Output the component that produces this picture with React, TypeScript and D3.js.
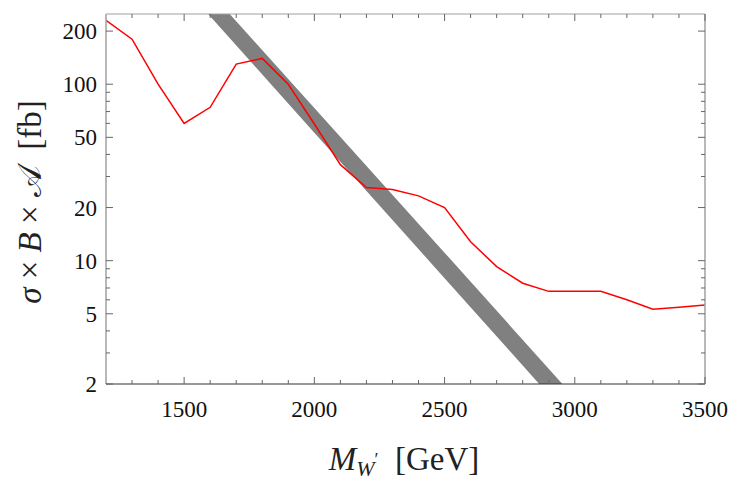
import React, { useEffect, useRef } from "react";
import * as d3 from "d3";

// observed limit (red line)
const massPoints = [1200, 1300, 1400, 1500, 1600, 1700, 1800, 1900, 2000, 2100, 2200, 2300, 2400, 2500, 2600, 2700, 2800, 2900, 3000, 3100, 3200, 3300, 3400, 3500];
const limitValues = [230, 180, 100, 60, 74, 130, 140, 100, 59.5, 35, 26, 25.3, 23.3, 20, 12.8, 9.25, 7.45, 6.7, 6.7, 6.7, 6.0, 5.3, 5.45, 5.6];

// theory band (gray)
const bandMass = [1500, 2000, 2500, 3000];
const bandLow = [355, 53, 7.96, 1.19];
const bandHigh = [484, 73.2, 11.1, 1.67];

const xMajorTicks = [1500, 2000, 2500, 3000, 3500];
const xMinorTicks = [1300, 1400, 1600, 1700, 1800, 1900, 2100, 2200, 2300, 2400, 2600, 2700, 2800, 2900, 3100, 3200, 3300, 3400];
const yMajorTicks = [2, 5, 10, 20, 50, 100, 200];
const yMinorTicks = [3, 4, 6, 7, 8, 9, 30, 40, 60, 70, 80, 90];

const W = 747, H = 487;
const L = 106, R = 705, T = 14, B = 384;
const font = "'Liberation Serif', 'DejaVu Serif', serif";

export default function App() {
  const ref = useRef<SVGGElement | null>(null);

  useEffect(() => {
    const svg = d3.select(ref.current);
    svg.selectAll("*").remove();

    const x = d3.scaleLinear().domain([1200, 3500]).range([L, R]);
    const y = d3.scaleLog().domain([2, 250]).range([B, T]);

    svg.append("clipPath").attr("id", "plotclip")
      .append("rect").attr("x", L).attr("y", T).attr("width", R - L).attr("height", B - T);

    const band = bandMass.map((m, i) => ({ m, lo: bandLow[i], hi: bandHigh[i] }));
    const area = d3.area<any>().x(d => x(d.m)).y0(d => y(d.lo)).y1(d => y(d.hi));
    svg.append("path").datum(band).attr("d", area).attr("fill", "#808080").attr("clip-path", "url(#plotclip)");

    const line = d3.line<number>().x((d, i) => x(massPoints[i])).y(d => y(d));
    svg.append("path").datum(limitValues).attr("d", line)
      .attr("fill", "none").attr("stroke", "#ff0000").attr("stroke-width", 1.5)
      .attr("clip-path", "url(#plotclip)");

    // frame
    const g = svg.append("g");
    g.append("line").attr("x1", L).attr("x2", R).attr("y1", T).attr("y2", T).attr("stroke", "#a0a0a0").attr("stroke-width", 1.2);
    g.append("line").attr("x1", L).attr("x2", L).attr("y1", T).attr("y2", B).attr("stroke", "#a0a0a0").attr("stroke-width", 1.5);
    g.append("line").attr("x1", R).attr("x2", R).attr("y1", T).attr("y2", B).attr("stroke", "#a0a0a0").attr("stroke-width", 1.5);
    g.append("line").attr("x1", L).attr("x2", R).attr("y1", B).attr("y2", B).attr("stroke", "#333").attr("stroke-width", 1.2);

    const tickColor = "#666";
    const xt = (ticks: number[], len: number) => {
      g.selectAll(null).data(ticks).enter().append("line")
        .attr("x1", d => x(d)).attr("x2", d => x(d)).attr("y1", B).attr("y2", B - len)
        .attr("stroke", tickColor).attr("stroke-width", 1);
      g.selectAll(null).data(ticks).enter().append("line")
        .attr("x1", d => x(d)).attr("x2", d => x(d)).attr("y1", T).attr("y2", T + len)
        .attr("stroke", tickColor).attr("stroke-width", 1);
    };
    xt(xMajorTicks, 7);
    xt(xMinorTicks, 4);
    const yt = (ticks: number[], len: number) => {
      g.selectAll(null).data(ticks).enter().append("line")
        .attr("x1", L).attr("x2", L + len).attr("y1", d => y(d)).attr("y2", d => y(d))
        .attr("stroke", tickColor).attr("stroke-width", 1);
      g.selectAll(null).data(ticks).enter().append("line")
        .attr("x1", R).attr("x2", R - len).attr("y1", d => y(d)).attr("y2", d => y(d))
        .attr("stroke", tickColor).attr("stroke-width", 1);
    };
    yt(yMajorTicks, 7);
    yt(yMinorTicks, 4);

    g.selectAll(null).data(xMajorTicks).enter().append("text")
      .attr("x", d => x(d)).attr("y", 417).attr("text-anchor", "middle")
      .attr("font-family", font).attr("font-size", 23).attr("fill", "#111")
      .text(d => String(d));
    g.selectAll(null).data(yMajorTicks).enter().append("text")
      .attr("x", 97).attr("y", d => y(d) + 8).attr("text-anchor", "end")
      .attr("font-family", font).attr("font-size", 23).attr("fill", "#111")
      .text(d => String(d));
  }, []);

  return (
    <svg width={W} height={H} style={{ position: "absolute", left: 0, top: 0, background: "#fff" }}>
      <g ref={ref as any} />
      <text x={404} y={470} textAnchor="middle" fontFamily={font} fontSize={33} fill="#222">
        <tspan fontStyle="italic">M</tspan>
        <tspan fontStyle="italic" fontSize={22} dy={6}>W</tspan>
        <tspan fontSize={18} dy={-10}>′</tspan>
        <tspan dy={4}>{"\u2002[GeV]"}</tspan>
      </text>
      <text transform="translate(41,202) rotate(-90)" textAnchor="middle" fontFamily={font} fontSize={33} fill="#222">
        <tspan fontStyle="italic">σ</tspan>
        <tspan>{" × "}</tspan>
        <tspan fontStyle="italic">B</tspan>
        <tspan>{" × "}</tspan>
        <tspan>𝒜</tspan>
        <tspan>{"\u2002[fb]"}</tspan>
      </text>
    </svg>
  );
}
